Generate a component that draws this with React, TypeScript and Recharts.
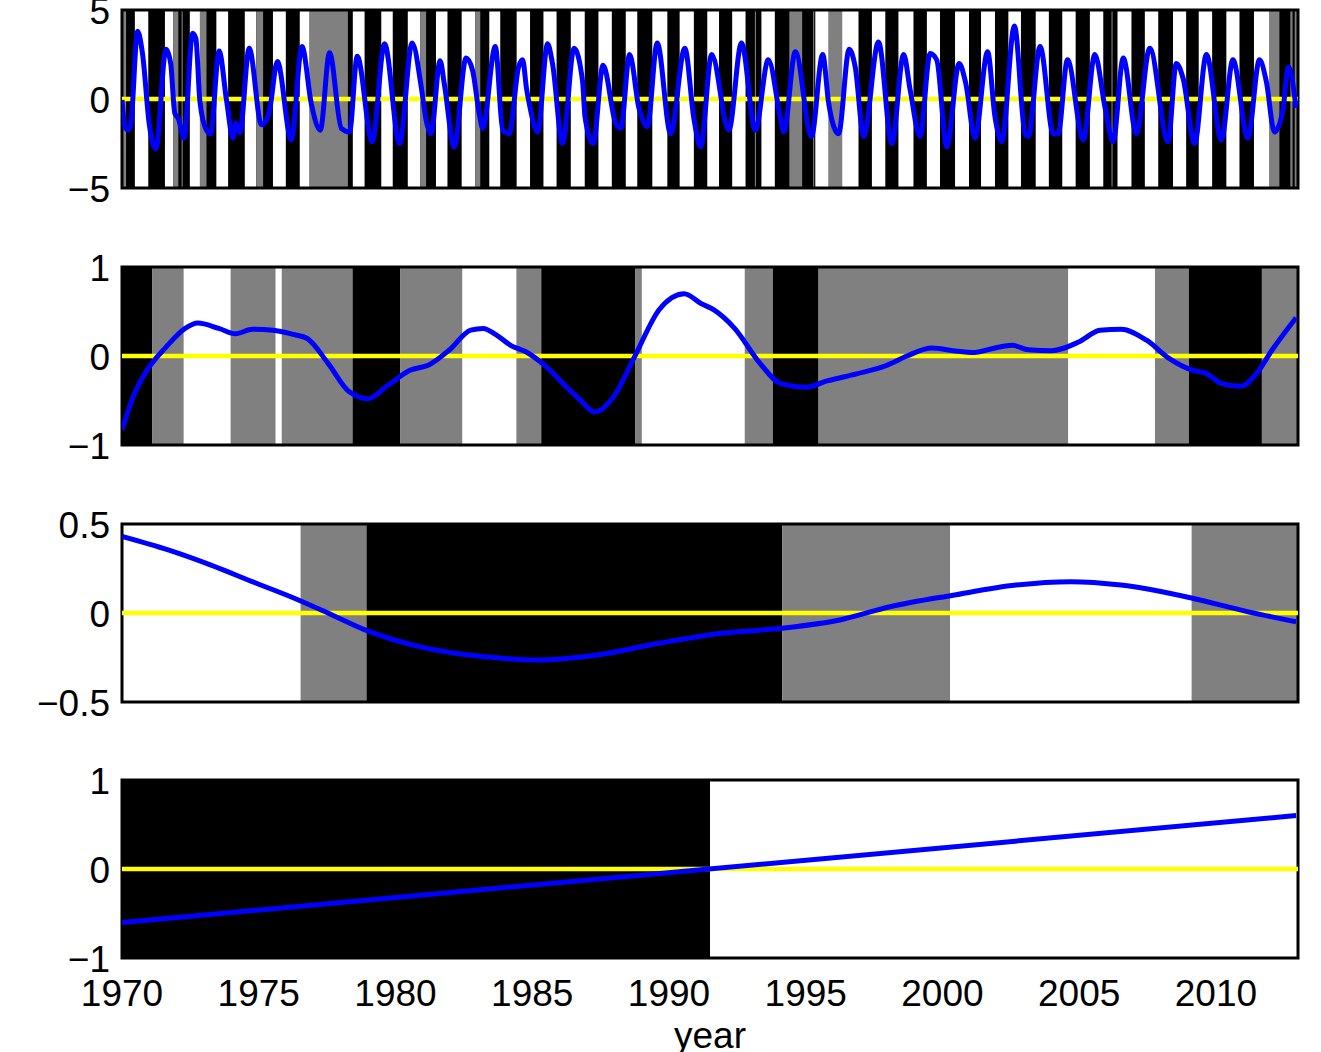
import React from 'react';
import { LineChart, Line, XAxis, YAxis, ReferenceArea, ReferenceLine } from 'recharts';

type Pt = [number, number];
// band: [from, to, shade]  shade: -1 = black, 0 = gray, 1 = white
type Band = [number, number, number];

const YEAR_START = 1970;
const YEAR_END = 2013;
const yearTicks = [1970, 1975, 1980, 1985, 1990, 1995, 2000, 2005, 2010];

// ---------- panel 1: seasonal component ----------
const seasonalPoints: Pt[] = [
  [1970.0, -0.05], [1970.11, -1.55], [1970.23, -1.75], [1970.32, -1.45], [1970.57, 3.8], [1970.75, 2.55],
  [1971.0, -1.45], [1971.24, -2.8], [1971.61, 2.8], [1971.78, 2.0], [1971.93, -0.8], [1972.06, -1.1],
  [1972.27, -2.2], [1972.58, 3.7], [1972.7, 3.4], [1972.85, -0.15], [1973.09, -1.75], [1973.24, -1.95],
  [1973.55, 2.7], [1973.82, -0.05], [1974.06, -2.2], [1974.16, -1.35], [1974.31, -1.9], [1974.65, 2.85],
  [1975.1, -1.45], [1975.28, -1.2], [1975.4, -0.6], [1975.68, 2.1], [1976.19, -2.3], [1976.58, 2.95],
  [1976.92, -0.25], [1977.25, -1.75], [1977.59, 2.6], [1978.02, -1.65], [1978.32, -1.85], [1978.6, 2.4],
  [1979.15, -2.4], [1979.6, 3.1], [1980.15, -2.5], [1980.61, 3.15], [1980.94, 0.7], [1981.12, -1.2],
  [1981.3, -1.95], [1981.63, 2.15], [1981.79, 0.8], [1982.15, -2.7], [1982.58, 2.3], [1982.82, 1.6],
  [1983.07, -0.9], [1983.19, -1.65], [1983.65, 2.95], [1983.92, -1.75], [1984.16, -1.95], [1984.5, 1.8],
  [1984.65, 2.2], [1984.79, 0.6], [1984.89, -0.25], [1985.2, -1.85], [1985.56, 3.1], [1985.74, 2.0],
  [1986.11, -2.5], [1986.53, 2.85], [1986.84, 1.0], [1986.93, -1.0], [1987.23, -2.5], [1987.59, 1.9],
  [1988.05, -1.35], [1988.24, -1.65], [1988.56, 2.5], [1988.9, -0.5], [1989.21, -1.55], [1989.57, 3.15],
  [1990.06, -1.95], [1990.58, 2.85], [1990.91, -1.1], [1991.16, -2.7], [1991.56, 2.5], [1992.19, -1.75],
  [1992.65, 3.15], [1993.16, -1.75], [1993.63, 2.2], [1994.08, -1.1], [1994.2, -1.85], [1994.62, 2.65],
  [1995.21, -2.1], [1995.62, 2.5], [1995.84, -0.25], [1996.2, -1.95], [1996.59, 2.8], [1996.81, 1.8],
  [1997.12, -2.1], [1997.66, 3.2], [1998.15, -2.5], [1998.58, 2.5], [1998.82, 0.5], [1999.18, -2.1],
  [1999.55, 2.55], [1999.79, 2.2], [2000.16, -2.7], [2000.61, 2.0], [2000.85, 0.9], [2001.19, -2.2],
  [2001.65, 2.65], [2001.92, -1.0], [2002.17, -2.4], [2002.63, 4.1], [2003.02, -1.95], [2003.14, -2.1],
  [2003.57, 2.95], [2004.05, -1.95], [2004.23, -1.95], [2004.57, 2.2], [2005.15, -2.3], [2005.57, 2.5],
  [2005.94, -0.45], [2006.24, -2.4], [2006.61, 2.3], [2007.09, -1.95], [2007.58, 2.85], [2008.25, -2.4],
  [2008.55, 2.0], [2008.8, 1.15], [2009.22, -2.5], [2009.65, 2.5], [2010.2, -2.3], [2010.62, 2.2],
  [2011.17, -2.2], [2011.59, 2.2], [2011.84, 1.0], [2012.14, -1.85], [2012.45, -0.6], [2012.65, 1.8],
  [2012.93, -0.5],
];
const seasonalBands: Band[] = [
  [1970.0, 2013.0, -1],
  [1970.47, 1970.96, 1], [1971.57, 1971.87, 1], [1972.48, 1972.85, 1], [1973.45, 1973.88, 1],
  [1974.49, 1974.91, 1], [1975.52, 1975.99, 1], [1976.5, 1976.86, 1], [1978.44, 1978.87, 1],
  [1979.48, 1979.9, 1], [1980.45, 1980.9, 1], [1981.48, 1981.9, 1], [1982.42, 1982.92, 1],
  [1983.43, 1983.83, 1], [1984.43, 1984.92, 1], [1985.41, 1985.89, 1], [1986.41, 1986.92, 1],
  [1987.42, 1987.91, 1], [1988.42, 1988.84, 1], [1989.39, 1989.94, 1], [1990.39, 1990.91, 1],
  [1991.4, 1991.83, 1], [1992.31, 1992.8, 1], [1993.38, 1993.87, 1], [1995.35, 1995.84, 1],
  [1996.33, 1996.93, 1], [1997.42, 1997.91, 1], [1998.39, 1998.94, 1], [1999.43, 1999.91, 1],
  [2000.46, 2000.97, 1], [2001.41, 2001.92, 1], [2002.41, 2002.87, 1], [2003.41, 2003.89, 1],
  [2004.38, 2004.87, 1], [2005.39, 2005.88, 1], [2006.4, 2006.91, 1], [2007.4, 2007.89, 1],
  [2008.43, 2008.91, 1], [2009.37, 2009.86, 1], [2010.38, 2010.86, 1], [2011.39, 2011.96, 1],
  [1970.0, 1970.15, 0], [1971.87, 1972.06, 0], [1972.18, 1972.22, 0], [1972.85, 1973.09, 0],
  [1974.91, 1975.16, 0], [1976.86, 1978.26, 0], [1980.9, 1981.12, 0], [1982.92, 1983.1, 0],
  [1993.14, 1993.18, 0], [1994.4, 1994.87, 0], [1995.27, 1995.31, 0], [1995.84, 1996.33, 0],
  [2006.18, 2006.22, 0], [2011.96, 2012.32, 0], [2012.72, 2012.8, 0], [2012.88, 2013.0, 0],
];
const seasonalTicks = [-5, 0, 5];

// ---------- panel 2: interannual component ----------
const interannualPoints: Pt[] = [
  [1970.0, -0.83], [1970.46, -0.42], [1970.85, -0.19], [1971.61, 0.1], [1972.31, 0.31], [1972.77, 0.37],
  [1973.54, 0.31], [1974.15, 0.25], [1974.77, 0.3], [1975.53, 0.29], [1976.3, 0.24], [1976.76, 0.2],
  [1977.53, -0.08], [1978.3, -0.4], [1978.99, -0.48], [1979.68, -0.34], [1980.53, -0.16], [1981.22, -0.1],
  [1981.98, 0.07], [1982.75, 0.29], [1983.21, 0.31], [1983.67, 0.24], [1984.21, 0.12], [1984.75, 0.05],
  [1985.51, -0.12], [1986.29, -0.36], [1986.74, -0.49], [1987.28, -0.63], [1987.97, -0.46], [1988.74, -0.01],
  [1989.64, 0.52], [1990.56, 0.7], [1991.17, 0.59], [1991.63, 0.52], [1992.4, 0.31], [1993.32, -0.08],
  [1994.09, -0.31], [1995.01, -0.35], [1995.78, -0.28], [1996.86, -0.2], [1997.93, -0.11], [1998.7, 0.0],
  [1999.62, 0.09], [2000.39, 0.06], [2001.16, 0.04], [2001.92, 0.09], [2002.54, 0.12], [2003.15, 0.07],
  [2004.0, 0.06], [2005.0, 0.16], [2005.76, 0.29], [2006.53, 0.3], [2007.45, 0.18], [2008.3, -0.03],
  [2009.14, -0.16], [2009.6, -0.19], [2010.22, -0.31], [2010.91, -0.34], [2011.45, -0.21], [2012.06, 0.07],
  [2012.93, 0.43],
];
const interannualBands: Band[] = [
  [1970.0, 1971.1, -1], [1971.1, 1972.26, 0], [1972.26, 1973.97, 1], [1973.97, 1975.62, 0],
  [1975.62, 1975.84, 1], [1975.84, 1978.43, 0], [1978.43, 1980.18, -1], [1980.18, 1982.45, 0],
  [1982.45, 1984.42, 1], [1984.42, 1985.33, 0], [1985.33, 1988.76, -1], [1988.76, 1989.01, 0],
  [1989.01, 1992.77, 1], [1992.77, 1993.8, 0], [1993.8, 1995.47, -1], [1995.47, 2004.6, 0],
  [2004.6, 2007.77, 1], [2007.77, 2009.01, 0], [2009.01, 2011.68, -1], [2011.68, 2013.0, 0],
];
const interannualTicks = [-1, 0, 1];

// ---------- panel 3: decadal component ----------
const decadalPoints: Pt[] = [
  [1970.0, 0.43], [1971.69, 0.354], [1973.23, 0.27], [1974.76, 0.176], [1976.3, 0.083], [1977.53, 0.0],
  [1978.91, -0.096], [1980.91, -0.19], [1983.21, -0.245], [1985.21, -0.264], [1987.36, -0.236],
  [1989.64, -0.17], [1991.93, -0.114], [1994.09, -0.086], [1996.24, -0.039], [1998.08, 0.035],
  [2000.39, 0.1], [2002.69, 0.157], [2004.69, 0.176], [2006.53, 0.157], [2009.14, 0.083],
  [2011.14, 0.008], [2012.93, -0.049],
];
const decadalBands: Band[] = [
  [1970.0, 1976.53, 1], [1976.53, 1978.94, 0], [1978.94, 1994.14, -1],
  [1994.14, 2000.28, 0], [2000.28, 2009.11, 1], [2009.11, 2013.0, 0],
];
const decadalTicks = [-0.5, 0, 0.5];

// ---------- panel 4: trend ----------
const trendPoints: Pt[] = [[1970.0, -0.6], [2012.93, 0.6]];
const trendBands: Band[] = [[1970.0, 1991.5, -1], [1991.5, 2013.0, 1]];
const trendTicks = [-1, 0, 1];

// ---------- styling ----------
const SHADE: Record<number, string> = { [-1]: '#000000', 0: '#808080', 1: '#ffffff' };
const FONT = '"Liberation Sans", Arial, Helvetica, sans-serif';
const FONT_SIZE = 37;
const CHART_W = 1321;
const PLOT_H = 178;

const fmt = (v: number) => (v < 0 ? '\u2212' + String(Math.abs(v)) : String(v));

const YTick = (props: any) => {
  const { x, y, payload } = props;
  return (
    <text x={x} y={y + 14} textAnchor="end" fontSize={FONT_SIZE} fontFamily={FONT} fill="#000">
      {fmt(payload.value)}
    </text>
  );
};

type PanelProps = {
  points: Pt[];
  bands: Band[];
  domain: [number, number];
  ticks: number[];
  plotTop: number;
  marginTop: number;
  bottomAxis?: boolean;
};

function Panel({ points, bands, domain, ticks, plotTop, marginTop, bottomAxis }: PanelProps) {
  const data = points.map(([t, v]) => ({ t, v }));
  const bottom = bottomAxis ? 0 : 32;
  const axisH = bottomAxis ? 94 : 0;
  const height = marginTop + PLOT_H + axisH + bottom;
  return (
    <div style={{ position: 'absolute', left: 0, top: plotTop - marginTop }}>
      <LineChart
        width={CHART_W}
        height={height}
        data={data}
        margin={{ top: marginTop, right: 23, bottom, left: 12 }}
      >
        <XAxis
          dataKey="t"
          type="number"
          domain={[YEAR_START, YEAR_END]}
          ticks={yearTicks}
          interval={0}
          allowDataOverflow
          hide={!bottomAxis}
          axisLine={false}
          tickLine={false}
          tickMargin={16}
          height={94}
          tick={{ fontSize: FONT_SIZE, fill: '#000', fontFamily: FONT }}
          label={{
            value: 'year',
            position: 'insideBottom',
            offset: 4,
            style: { fontSize: FONT_SIZE, fill: '#000', fontFamily: FONT },
          }}
        />
        <YAxis
          type="number"
          domain={domain}
          ticks={ticks}
          interval={0}
          allowDataOverflow
          width={110}
          axisLine={false}
          tickLine={false}
          tickMargin={6}
          tick={<YTick />}
        />
        {bands.map(([a, b, s], i) => (
          <ReferenceArea
            key={i}
            x1={a}
            x2={b}
            y1={domain[0]}
            y2={domain[1]}
            fill={SHADE[s]}
            fillOpacity={1}
            stroke="none"
            ifOverflow="hidden"
          />
        ))}
        <ReferenceLine y={0} stroke="#ffff00" strokeWidth={4.5} />
        <Line
          dataKey="v"
          type="monotone"
          stroke="#0000ff"
          strokeWidth={5}
          dot={false}
          activeDot={false}
          isAnimationActive={false}
        />
        <ReferenceArea
          x1={YEAR_START}
          x2={YEAR_END}
          y1={domain[0]}
          y2={domain[1]}
          fill="none"
          stroke="#000"
          strokeWidth={3}
          ifOverflow="visible"
        />
      </LineChart>
    </div>
  );
}

export default function App() {
  return (
    <div style={{ position: 'absolute', left: 0, top: 0, width: 1321, height: 1052, background: '#fff', overflow: 'hidden' }}>
      <Panel points={seasonalPoints} bands={seasonalBands} domain={[-5, 5]} ticks={seasonalTicks} plotTop={10} marginTop={10} />
      <Panel points={interannualPoints} bands={interannualBands} domain={[-1, 1]} ticks={interannualTicks} plotTop={267} marginTop={30} />
      <Panel points={decadalPoints} bands={decadalBands} domain={[-0.5, 0.5]} ticks={decadalTicks} plotTop={524} marginTop={30} />
      <Panel points={trendPoints} bands={trendBands} domain={[-1, 1]} ticks={trendTicks} plotTop={780} marginTop={30} bottomAxis />
    </div>
  );
}
